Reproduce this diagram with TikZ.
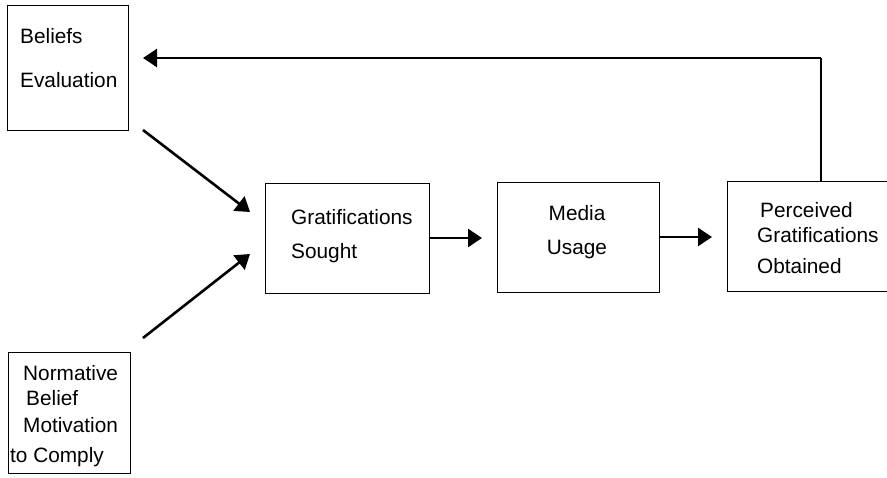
\documentclass[tikz,border=0pt]{standalone}
\usepackage{fontspec}
\setmainfont{Liberation Sans}
\usetikzlibrary{arrows.meta}
\begin{document}
\begin{tikzpicture}[x=1pt,y=-1pt,
  box/.style={draw,line width=1.1pt,inner sep=0pt},
  lbl/.style={anchor=base west,inner sep=0pt,font=\fontsize{20.8}{24}\selectfont},
  clbl/.style={anchor=base,inner sep=0pt,font=\fontsize{20.8}{24}\selectfont},
  arr/.style={line width=2.6pt,-{Triangle[length=14pt,width=18pt]}},
  ln/.style={line width=2.2pt}]
\useasboundingbox (0,0) rectangle (887,477);
% boxes
\node[box,minimum width=121pt,minimum height=125pt,anchor=north west] (bel) at (7,5) {};
\node[box,minimum width=122pt,minimum height=121pt,anchor=north west] (nor) at (8,352) {};
\node[box,minimum width=164pt,minimum height=110pt,anchor=north west] (gs) at (265,183) {};
\node[box,minimum width=162pt,minimum height=110pt,anchor=north west] (mu) at (497,182) {};
\node[box,minimum width=170pt,minimum height=110pt,anchor=north west] (pg) at (727,181) {};
% texts
\node[lbl] (t1) at (20,43) {Beliefs};
\node[lbl] (t2) at (20,87) {Evaluation};
\node[lbl] (t3) at (23,380) {Normative};
\node[lbl] (t4) at (26,405) {Belief};
\node[lbl] (t5) at (23,432) {Motivation};
\node[lbl] (t6) at (10,462) {to Comply};
\node[lbl] (t7) at (291,224) {Gratifications};
\node[lbl] (t8) at (291,258) {Sought};
\node[clbl] (t9) at (577,220) {Media};
\node[clbl] (t10) at (577,254) {Usage};
\node[lbl] (t11) at (760,217) {Perceived};
\node[lbl] (t12) at (757,242) {Gratifications};
\node[lbl] (t13) at (757,273) {Obtained};
% connectors
\coordinate (a1s) at (143,130);
\coordinate (a1e) at (250,212);
\coordinate (a2s) at (143,338);
\coordinate (a2e) at (250,254);
\draw[arr] (a1s) -- (a1e);
\draw[arr] (a2s) -- (a2e);
\draw[arr] (gs.east |- 0,238) -- (482,238);
\draw[arr] (mu.east |- 0,237) -- (712,237);
\coordinate (fb) at (821,58);
\draw[ln] (pg.north -| fb) -- (fb);
\draw[arr] (fb) -- (143,58);
\end{tikzpicture}
\end{document}
